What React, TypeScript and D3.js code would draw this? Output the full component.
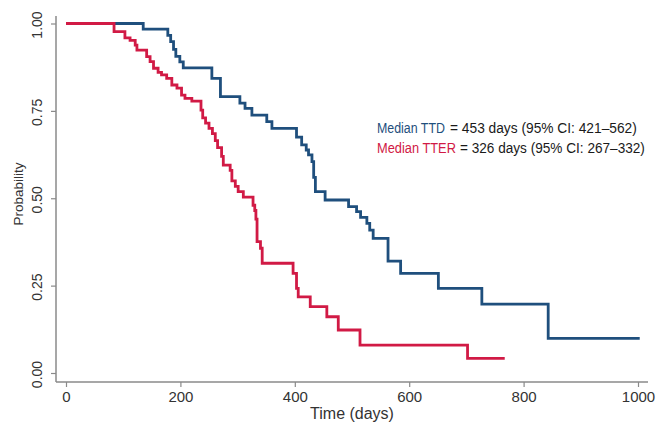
import { useEffect, useRef } from "react";
import * as d3 from "d3";

// Achsen-Ticks
const xTicks = [0, 200, 400, 600, 800, 1000];
const yTicks = [0, 0.25, 0.5, 0.75, 1];

// TTD: Tage und Wahrscheinlichkeit nach jedem Schritt
const ttdDays = [0, 135, 178, 183, 188, 192, 199, 205, 255, 270, 304, 313, 325, 351, 360, 403, 412, 420, 424, 430, 433, 436, 453, 494, 508, 515, 526, 531, 537, 563, 585, 651, 727, 843, 1003];
const ttdProb = [1, 0.984, 0.966, 0.948, 0.926, 0.906, 0.89, 0.873, 0.843, 0.791, 0.772, 0.757, 0.738, 0.719, 0.7, 0.675, 0.653, 0.638, 0.624, 0.605, 0.56, 0.519, 0.495, 0.476, 0.462, 0.445, 0.428, 0.409, 0.385, 0.32, 0.285, 0.242, 0.197, 0.099, 0.099];

// TTER
const tterDays = [0, 84, 103, 112, 121, 124, 141, 147, 153, 161, 167, 176, 185, 194, 202, 208, 220, 236, 239, 244, 250, 256, 261, 265, 272, 275, 287, 290, 296, 301, 310, 327, 330, 332, 334, 340, 343, 397, 403, 406, 427, 456, 476, 514, 702, 767];
const tterProb = [1, 0.977, 0.959, 0.952, 0.938, 0.924, 0.905, 0.891, 0.872, 0.86, 0.853, 0.843, 0.824, 0.815, 0.795, 0.786, 0.778, 0.752, 0.73, 0.715, 0.7, 0.685, 0.665, 0.645, 0.62, 0.595, 0.58, 0.55, 0.534, 0.519, 0.503, 0.48, 0.465, 0.44, 0.376, 0.357, 0.314, 0.285, 0.242, 0.218, 0.19, 0.161, 0.123, 0.08, 0.042, 0.042];

const legendLabels = ["Median TTD", "Median TTER"];
const legendRest = ["= 453 days (95% CI: 421\u2013562)", "= 326 days (95% CI: 267\u2013332)"];

const BLUE = "#1f4f7d";
const RED = "#d11a45";

export default function App() {
  const ref = useRef<SVGSVGElement | null>(null);
  const width = 661;
  const height = 423;

  useEffect(() => {
    const svg = d3.select(ref.current);
    svg.selectAll("*").remove();

    const x = d3.scaleLinear().domain([0, 1000]).range([66, 638]);
    const y = d3.scaleLinear().domain([0, 1]).range([373, 23.5]);
    const axisX = 56;
    const axisY = 382;
    const font = "'Liberation Sans', Arial, sans-serif";

    // Achsenlinien
    svg.append("line")
      .attr("x1", axisX).attr("x2", axisX)
      .attr("y1", 16).attr("y2", axisY)
      .attr("stroke", "#8a8a8a").attr("stroke-width", 1.5);
    svg.append("line")
      .attr("x1", axisX).attr("x2", 648)
      .attr("y1", axisY).attr("y2", axisY)
      .attr("stroke", "#8a8a8a").attr("stroke-width", 1.5);

    const gx = svg.append("g").attr("transform", `translate(0,${axisY})`)
      .call(d3.axisBottom(x).tickValues(xTicks).tickSize(5).tickPadding(4).tickFormat(d3.format("d")));
    gx.select(".domain").remove();
    gx.selectAll("line").attr("stroke", "#8a8a8a").attr("stroke-width", 1.2);
    gx.selectAll("text").attr("fill", "#333").style("font-size", "15px").style("font-family", font);

    const gy = svg.append("g").attr("transform", `translate(${axisX},0)`)
      .call(d3.axisLeft(y).tickValues(yTicks).tickSize(5).tickFormat(d3.format(".2f")));
    gy.select(".domain").remove();
    gy.selectAll("line").attr("stroke", "#8a8a8a").attr("stroke-width", 1.2);
    gy.selectAll("text")
      .attr("x", null).attr("dy", null)
      .attr("fill", "#333")
      .attr("text-anchor", "middle")
      .attr("transform", "translate(-19,1) rotate(-90)")
      .attr("dominant-baseline", "central")
      .style("font-size", "14px").style("font-family", font);

    svg.append("text")
      .attr("x", 352).attr("y", 419)
      .attr("text-anchor", "middle")
      .attr("fill", "#333")
      .style("font-size", "16px").style("font-family", font)
      .text("Time (days)");

    svg.append("text")
      .attr("transform", "translate(18,194) rotate(-90)")
      .attr("text-anchor", "middle")
      .attr("dominant-baseline", "central")
      .attr("fill", "#333")
      .style("font-size", "13.5px").style("font-family", font)
      .text("Probability");

    const line = d3.line<[number, number]>()
      .x((d) => x(d[0]))
      .y((d) => y(d[1]))
      .curve(d3.curveStepAfter);

    const series = [
      { days: ttdDays, prob: ttdProb, color: BLUE },
      { days: tterDays, prob: tterProb, color: RED },
    ];
    series.forEach((s) => {
      const pts = s.days.map((d, i) => [d, s.prob[i]] as [number, number]);
      svg.append("path")
        .datum(pts)
        .attr("fill", "none")
        .attr("stroke", s.color)
        .attr("stroke-width", 2.8)
        .attr("d", line);
    });

    // Legende: schmale Schrift per horizontaler Skalierung nachbilden
    const legendColors = [BLUE, RED];
    const labelWidths = [68, 79];
    const restX = [450, 460];
    const restWidths = [187, 185];
    const narrowText = (tx: number, ty: number, w: number, color: string, s: string) => {
      const t = svg.append("text")
        .attr("transform", `translate(${tx},${ty})`)
        .attr("fill", color)
        .style("font-size", "15px")
        .style("font-family", font)
        .text(s);
      const len = (t.node() as SVGTextElement).getComputedTextLength() || w;
      t.attr("transform", `translate(${tx},${ty}) scale(${w / len},1)`);
    };
    legendLabels.forEach((lab, i) => {
      const yy = 133 + i * 20;
      narrowText(377, yy, labelWidths[i], legendColors[i], lab);
      narrowText(restX[i], yy, restWidths[i], "#1a1a1a", legendRest[i]);
    });
  }, []);

  return (
    <svg
      ref={ref}
      width={width}
      height={height}
      style={{ position: "absolute", left: 0, top: 0, background: "#fff" }}
    />
  );
}
